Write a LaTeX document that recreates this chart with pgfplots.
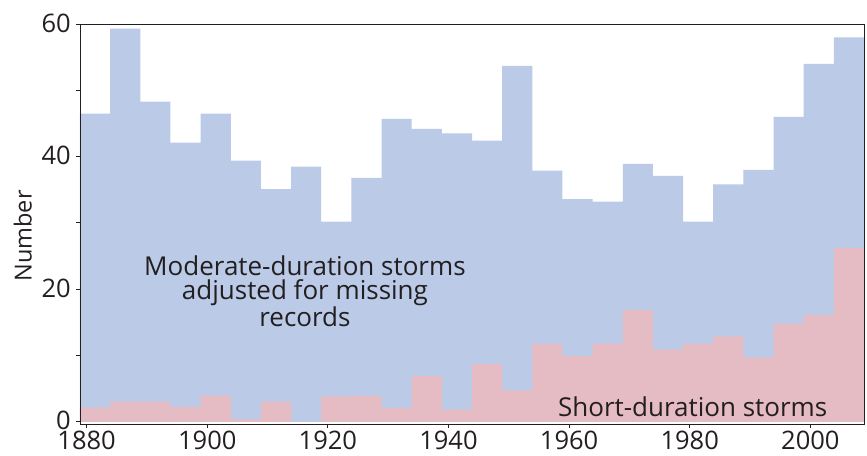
\documentclass[border=0pt]{standalone}
\usepackage{fontspec}
\setmainfont{Open Sans}
\usepackage{pgfplots}
\pgfplotsset{compat=1.18}
\definecolor{modblue}{RGB}{186,202,231}
\definecolor{shortpink}{RGB}{230,188,196}
\definecolor{ink}{RGB}{35,31,32}
\begin{document}
\begin{tikzpicture}
\path[use as bounding box] (-80pt,-31pt) rectangle (787pt,424pt);
\begin{axis}[
 at={(0pt,0pt)}, anchor=south west,
 width=784pt, height=400pt, scale only axis,
 xmin=1878.9, xmax=2008.9, ymin=-0.33, ymax=60,
 xtick={1880,1900,...,2000}, ytick={0,20,40,60}, minor ytick={10,30,50},
 tick pos=left, tick align=outside,
 major tick length=4pt, minor tick length=4pt,
 axis line style={ink, line width=0.9pt},
 every tick/.style={ink, line width=0.9pt},
 ticklabel style={font=\fontsize{25.5}{25.5}\selectfont, text=ink, inner sep=0pt},
 yticklabel style={xshift=-5pt, yshift=1pt},
 xticklabel style={yshift=-3pt},
 /pgf/number format/assume math mode=true,
 /pgf/number format/1000 sep={},
 ylabel={Number},
 ylabel style={font=\fontsize{23.5}{23.5}\selectfont, text=ink, at={(axis description cs:-0.073,0.47)}, anchor=center},
 axis on top,
]
\addplot[ybar interval, fill=modblue, draw=none] coordinates {
(1878.9,46.5) (1883.9,59.3) (1888.9,48.3) (1893.9,42.1) (1898.9,46.5)
(1903.9,39.4) (1908.9,35.1) (1913.9,38.5) (1918.9,30.2) (1923.9,36.8)
(1928.9,45.7) (1933.9,44.2) (1938.9,43.5) (1943.9,42.4) (1948.9,53.7)
(1953.9,37.9) (1958.9,33.6) (1963.9,33.2) (1968.9,38.9) (1973.9,37.1)
(1978.9,30.2) (1983.9,35.8) (1988.9,38.0) (1993.9,46.0) (1998.9,54.0)
(2003.9,58.0) (2008.9,58.0)};
\addplot[ybar interval, fill=shortpink, draw=none] coordinates {
(1878.9,2.15) (1883.9,3.05) (1888.9,3.05) (1893.9,2.25) (1898.9,3.95)
(1903.9,0.35) (1908.9,3.05) (1913.9,0) (1918.9,3.85) (1923.9,3.9)
(1928.9,2.1) (1933.9,6.9) (1938.9,1.85) (1943.9,8.7) (1948.9,4.75)
(1953.9,11.8) (1958.9,9.9) (1963.9,11.8) (1968.9,16.9) (1973.9,10.9)
(1978.9,11.8) (1983.9,12.9) (1988.9,9.7) (1993.9,14.8) (1998.9,16.1)
(2003.9,26.2) (2008.9,26.2)};
\node[font=\fontsize{26}{24}\selectfont, text=ink, align=center, anchor=center]
 at (axis cs:1916.2,19.7) {Moderate-duration storms\\adjusted for missing\\records};
\node[font=\fontsize{26}{24}\selectfont, text=ink, anchor=base]
 at (axis cs:1980.5,0.83) {Short-duration storms};
\end{axis}
\end{tikzpicture}
\end{document}
